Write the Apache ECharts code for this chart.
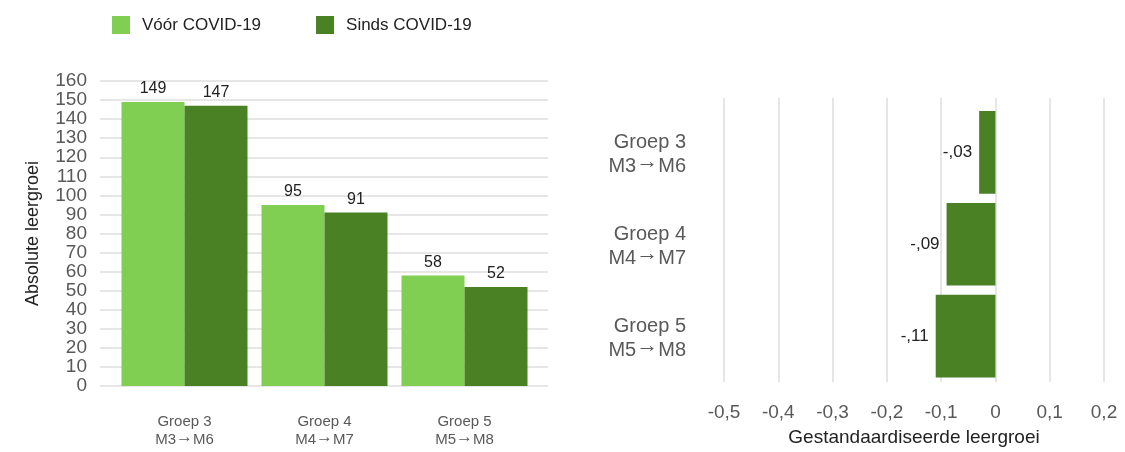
<!DOCTYPE html>
<html>
<head>
<meta charset="utf-8">
<script src="https://cdn.jsdelivr.net/npm/echarts@6/dist/echarts.min.js"></script>
<style>
  html, body { margin: 0; padding: 0; background: #fff; }
  #chart { width: 1125px; height: 452px; }
</style>
</head>
<body>
<div id="chart"></div>
<script>
const groups = ["Groep 3\nM3→M6", "Groep 4\nM4→M7", "Groep 5\nM5→M8"];
const voorCovid = [149, 95, 58];
const sindsCovid = [147, 91, 52];
const effectSizes = [-0.03, -0.09, -0.11];

const lightGreen = "#80cf53";
const darkGreen = "#4a8125";
const gridColor = "#e6e6e6";
const font = "Liberation Sans, Arial, sans-serif";

const chart = echarts.init(document.getElementById("chart"));

// "-0,5" style ticks, "-,03" style bar labels
const tickFmt = (v) => (Math.abs(v) < 1e-9 ? "0" : v.toFixed(1).replace(".", ","));
const effectFmt = (v) => (v < 0 ? "-" : "") + Math.abs(v).toFixed(2).replace(/^0\./, ",");
// lift the arrow a bit, it sits low in Liberation
const arrowFmt = (v) => v.replace("→", "{arr|→}");

const options = {
  animation: false,
  textStyle: { fontFamily: font },
  legend: {
    data: ["Vóór COVID-19", "Sinds COVID-19"],
    left: 107,
    top: 11,
    icon: "rect",
    itemWidth: 18,
    itemHeight: 18,
    itemGap: 55,
    textStyle: { fontSize: 17, color: "#222", fontFamily: font, padding: [0, 0, 0, 7] },
  },
  grid: [
    // left frame (gridlines + y labels)
    { left: 100, right: 577, top: 81, bottom: 66 },
    // left bars
    { left: 114.5, width: 420, top: 81, bottom: 66 },
    // right frame (gridlines + x labels)
    { left: 724, right: 21, top: 98, bottom: 61 },
    // right bars
    { left: 724, right: 21, top: 106.5, bottom: 70 },
  ],
  xAxis: [
    { gridIndex: 0, type: "value", show: false },
    {
      gridIndex: 1,
      type: "category",
      data: groups,
      axisLine: { show: false },
      axisTick: { show: false },
      axisLabel: {
        color: "#595959", fontSize: 15, lineHeight: 18, margin: 27, fontFamily: font,
        formatter: arrowFmt,
        rich: { arr: { fontFamily: font, fontSize: 17, color: "#595959", verticalAlign: "bottom", padding: [0, 0, 3, 0] } },
      },
    },
    {
      gridIndex: 2,
      type: "value",
      min: -0.5,
      max: 0.2,
      interval: 0.1,
      axisLine: { show: false },
      axisTick: { show: false },
      splitLine: { lineStyle: { color: gridColor, width: 2 } },
      axisLabel: { color: "#595959", fontSize: 19, margin: 21, formatter: tickFmt, fontFamily: font },
      name: "Gestandaardiseerde leergroei",
      nameLocation: "middle",
      nameGap: 46,
      nameTextStyle: { color: "#222", fontSize: 19, fontFamily: font },
    },
    { gridIndex: 3, type: "value", min: -0.5, max: 0.2, show: false },
  ],
  yAxis: [
    {
      gridIndex: 0,
      type: "value",
      min: 0,
      max: 160,
      interval: 10,
      axisLine: { show: false },
      axisTick: { show: false },
      splitLine: { lineStyle: { color: gridColor, width: 2 } },
      axisLabel: { color: "#595959", fontSize: 19, margin: 13, fontFamily: font },
      name: "Absolute leergroei",
      nameLocation: "middle",
      nameGap: 58,
      nameTextStyle: { color: "#222", fontSize: 18, fontFamily: font },
    },
    { gridIndex: 1, type: "value", min: 0, max: 160, show: false },
    { gridIndex: 2, type: "category", data: groups, show: false },
    {
      gridIndex: 3,
      type: "category",
      data: groups,
      inverse: true,
      axisLine: { show: false },
      axisTick: { show: false },
      axisLabel: {
        color: "#595959", fontSize: 20, lineHeight: 24, margin: 38, align: "right", fontFamily: font,
        padding: [4, 0, 0, 0],
        formatter: arrowFmt,
        rich: { arr: { fontFamily: font, fontSize: 22, color: "#595959", verticalAlign: "bottom", padding: [0, 0, 5, 0] } },
      },
    },
  ],
  series: [
    {
      name: "Vóór COVID-19",
      type: "bar",
      xAxisIndex: 1,
      yAxisIndex: 1,
      data: voorCovid,
      barGap: "0%",
      barCategoryGap: "10%",
      itemStyle: { color: lightGreen },
      label: { show: true, position: "top", distance: 5, color: "#222", fontSize: 16, fontFamily: font },
    },
    {
      name: "Sinds COVID-19",
      type: "bar",
      xAxisIndex: 1,
      yAxisIndex: 1,
      data: sindsCovid,
      barGap: "0%",
      barCategoryGap: "10%",
      itemStyle: { color: darkGreen },
      label: { show: true, position: "top", distance: 5, color: "#222", fontSize: 16, fontFamily: font },
    },
    {
      name: "Effect",
      type: "bar",
      xAxisIndex: 3,
      yAxisIndex: 3,
      data: effectSizes,
      barCategoryGap: "10%",
      itemStyle: { color: darkGreen },
      label: {
        show: true,
        position: "left",
        distance: 7,
        color: "#222",
        fontSize: 17,
        fontFamily: font,
        formatter: (p) => effectFmt(p.value),
      },
    },
  ],
};

chart.setOption(options);
</script>
</body>
</html>
